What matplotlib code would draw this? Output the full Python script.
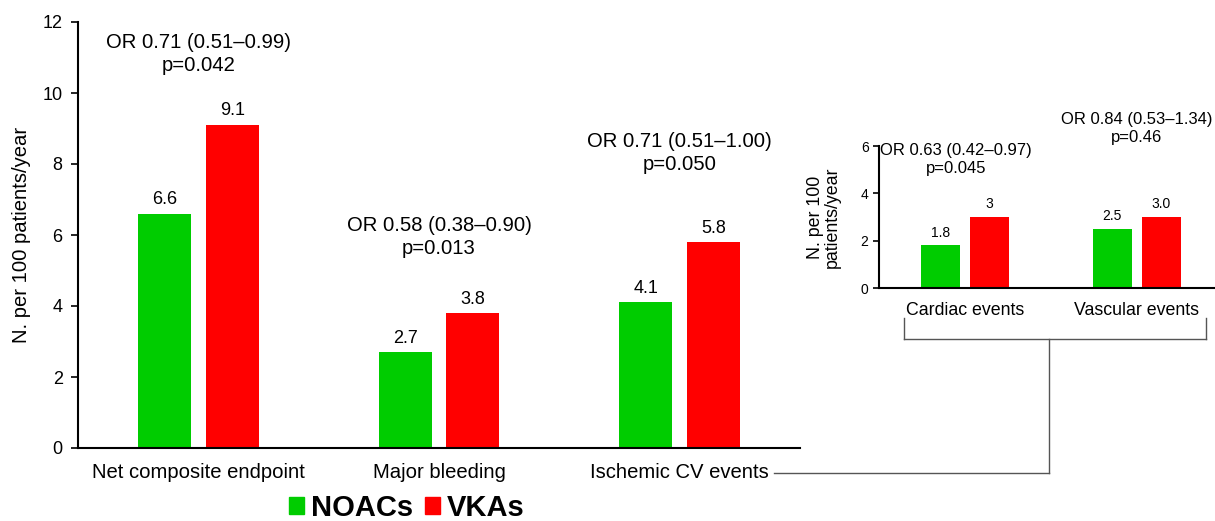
import matplotlib
matplotlib.use("Agg")
import numpy as np
import matplotlib.pyplot as plt
from matplotlib.lines import Line2D
from matplotlib.patches import Patch

plt.rcParams['font.family'] = ['Liberation Sans', 'DejaVu Sans']

# main panel data
categories = ["Net composite endpoint", "Major bleeding", "Ischemic CV events"]
noacs = [6.6, 2.7, 4.1]
vkas = [9.1, 3.8, 5.8]
or_texts = ["OR 0.71 (0.51\u20130.99)\np=0.042",
            "OR 0.58 (0.38\u20130.90)\np=0.013",
            "OR 0.71 (0.51\u20131.00)\np=0.050"]
or_y = [11.1, 5.94, 8.31]

# inset data (ischemic CV events split)
sub_categories = ["Cardiac events", "Vascular events"]
sub_noacs = [1.8, 2.5]
sub_vkas = [3.0, 3.0]
sub_noacs_lbl = ["1.8", "2.5"]
sub_vkas_lbl = ["3", "3.0"]
sub_or_texts = ["OR 0.63 (0.42\u20130.97)\np=0.045",
                "OR 0.84 (0.53\u20131.34)\np=0.46"]
sub_or_y = [5.45, 6.76]

green = "#00cc00"
red = "#ff0000"

W, H = 1215, 521
fig = plt.figure(figsize=(W / 100, H / 100), dpi=100)


def px(x0, y0, x1, y1):
    return [x0 / W, 1 - y1 / H, (x1 - x0) / W, (y1 - y0) / H]


# ---- main axes
ax = fig.add_axes(px(78, 22, 800, 448))
x = np.arange(len(categories))
bw = 0.22
off = 0.141
ax.bar(x - off, noacs, bw, color=green)
ax.bar(x + off, vkas, bw, color=red)
for i in range(len(categories)):
    ax.annotate(f"{noacs[i]:.1f}", (x[i] - off, noacs[i]), xytext=(0, 4),
                textcoords="offset points", ha="center", va="bottom", fontsize=13)
    ax.annotate(f"{vkas[i]:.1f}", (x[i] + off, vkas[i]), xytext=(0, 4),
                textcoords="offset points", ha="center", va="bottom", fontsize=13)
    ax.text(x[i], or_y[i], or_texts[i], ha="center", va="center",
            fontsize=14.6, linespacing=1.25)
ax.set_xlim(-0.5, 2.5)
ax.set_ylim(0, 12)
ax.set_yticks(range(0, 13, 2))
ax.set_xticks(x)
ax.set_xticklabels(categories, fontsize=14.6)
ax.tick_params(axis="x", length=0, pad=11)
ax.tick_params(axis="y", labelsize=13, length=5, width=1.2, pad=6)
ax.set_ylabel("N. per 100 patients/year", fontsize=14.6, labelpad=8)
for s in ["top", "right"]:
    ax.spines[s].set_visible(False)
for s in ["left", "bottom"]:
    ax.spines[s].set_linewidth(1.5)

# ---- inset axes
ax2 = fig.add_axes(px(879, 146, 1214, 288))
x2 = np.arange(len(sub_categories))
bw2 = 0.227
off2 = 0.142
ax2.bar(x2 - off2, sub_noacs, bw2, color=green)
ax2.bar(x2 + off2, sub_vkas, bw2, color=red)
for i in range(len(sub_categories)):
    ax2.annotate(sub_noacs_lbl[i], (x2[i] - off2, sub_noacs[i]), xytext=(0, 4),
                 textcoords="offset points", ha="center", va="bottom", fontsize=10)
    ax2.annotate(sub_vkas_lbl[i], (x2[i] + off2, sub_vkas[i]), xytext=(0, 4),
                 textcoords="offset points", ha="center", va="bottom", fontsize=10)
    ax2.text(x2[i] - 0.05 * (1 - i), sub_or_y[i], sub_or_texts[i], ha="center",
             va="center", fontsize=12, linespacing=1.25, clip_on=False)
ax2.set_xlim(-0.5, 1.45)
ax2.set_ylim(0, 6)
ax2.set_yticks(range(0, 7, 2))
ax2.set_xticks(x2)
ax2.set_xticklabels(sub_categories, fontsize=12.8)
ax2.tick_params(axis="x", length=0, pad=10)
ax2.tick_params(axis="y", labelsize=10, length=4, width=1.2)
ax2.set_ylabel("N. per 100\npatients/year", fontsize=12.8, labelpad=14,
               linespacing=1.0)
for s in ["top", "right"]:
    ax2.spines[s].set_visible(False)
for s in ["left", "bottom"]:
    ax2.spines[s].set_linewidth(1.5)

# ---- bracket connecting the ischemic bar group to the inset
lc = "#555555"
segs = [((904, 318), (904, 339)), ((904, 339), (1206, 339)),
        ((1206, 318), (1206, 339)), ((1049, 339), (1049, 473)),
        ((774, 473), (1049, 473))]
for (a, b) in segs:
    fig.add_artist(Line2D([a[0] / W, b[0] / W], [1 - a[1] / H, 1 - b[1] / H],
                          color=lc, lw=1.0, transform=fig.transFigure))

# ---- legend
handles = [Patch(color=green, label="NOACs"), Patch(color=red, label="VKAs")]
fig.legend(handles=handles, loc="center left", bbox_to_anchor=(263 / W, 1 - 508 / H),
           ncol=2, frameon=False, handlelength=0.5, handleheight=0.5,
           handletextpad=0.25, columnspacing=0.4,
           prop={"weight": "bold", "size": 21})

fig.savefig("out.png", dpi=100)
